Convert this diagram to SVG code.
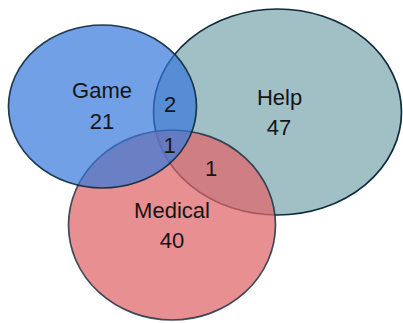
<svg xmlns="http://www.w3.org/2000/svg" width="403" height="323" viewBox="0 0 403 323">
  <style>
    .set { stroke: #0f2a3b; stroke-width: 1.7; }
    .label { font-family: "Liberation Sans", Arial, sans-serif; font-size: 22px; fill: #151515; text-anchor: middle; }
  </style>
  <rect width="403" height="323" fill="#ffffff"/>
  <!-- sets: drawn bottom to top with translucent fills -->
  <g id="help">
    <ellipse class="set" cx="277.5" cy="112" rx="124" ry="103" fill="#a0c0c6"/>
  </g>
  <g id="medical">
    <ellipse class="set" cx="172" cy="225" rx="103.5" ry="95" fill="#e0686c" fill-opacity="0.74" stroke-opacity="0.8"/>
  </g>
  <g id="game">
    <ellipse class="set" cx="102.5" cy="106.5" rx="94" ry="81.5" fill="#3677db" fill-opacity="0.7" stroke-opacity="0.9"/>
  </g>
  <!-- region labels -->
  <g id="labels">
    <text class="label" x="102" y="98">Game</text>
    <text class="label" x="102" y="129">21</text>
    <text class="label" x="279.5" y="105">Help</text>
    <text class="label" x="279" y="135">47</text>
    <text class="label" x="170" y="112">2</text>
    <text class="label" x="169.5" y="152.5">1</text>
    <text class="label" x="211" y="175.5">1</text>
    <text class="label" x="172" y="218">Medical</text>
    <text class="label" x="172" y="248">40</text>
  </g>
</svg>
